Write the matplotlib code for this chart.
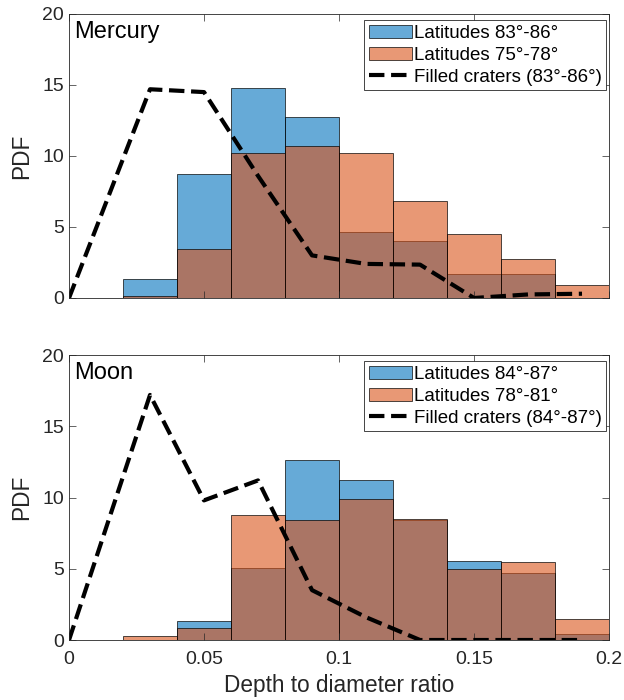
import numpy as np
import matplotlib
matplotlib.use("Agg")
import matplotlib.pyplot as plt

plt.rcParams['font.family'] = ['Liberation Sans', 'DejaVu Sans']

# bin edges shared by both panels
edges = np.arange(0, 0.2001, 0.02)

# Mercury
merc_polar = [0, 1.35, 8.7, 14.8, 12.75, 4.65, 4.0, 1.7, 1.7, 0]
merc_low = [0, 0.15, 3.45, 10.2, 10.7, 10.2, 6.8, 4.5, 2.75, 0.9]
merc_fill_x = [0, 0.03, 0.05, 0.07, 0.09, 0.11, 0.13, 0.15, 0.17, 0.19]
merc_fill_y = [0, 14.7, 14.5, 8.6, 3.0, 2.4, 2.35, 0, 0.25, 0.3]

# Moon
moon_polar = [0, 0, 1.36, 5.07, 12.6, 11.2, 8.45, 5.58, 4.67, 0.44]
moon_low = [0, 0.28, 0.82, 8.76, 8.43, 9.93, 8.47, 4.98, 5.51, 1.45]
moon_fill_x = [0, 0.03, 0.05, 0.07, 0.09, 0.11, 0.13, 0.15, 0.17, 0.19]
moon_fill_y = [0, 17.2, 9.8, 11.2, 3.5, 1.6, 0, 0, 0, 0]

panels = [
    ("Mercury", merc_polar, merc_low, merc_fill_x, merc_fill_y,
     ["Latitudes 83°-86°", "Latitudes 75°-78°", "Filled craters (83°-86°)"]),
    ("Moon", moon_polar, moon_low, moon_fill_x, moon_fill_y,
     ["Latitudes 84°-87°", "Latitudes 78°-81°", "Filled craters (84°-87°)"]),
]

blue = (0.0, 0.447, 0.741, 0.6)
orange = (0.85, 0.325, 0.098, 0.6)
gray = (0.15, 0.15, 0.15)

fig = plt.figure(figsize=(6.24, 7.0), dpi=100)
rects = [[0.1106, 0.5743, 0.8654, 0.4057], [0.1106, 0.0857, 0.8654, 0.4071]]

for i, (name, polar, low, fx, fy, labels) in enumerate(panels):
    ax = fig.add_axes(rects[i])
    b1 = ax.bar(edges[:-1], polar, width=0.02, align='edge', facecolor=blue,
                edgecolor=(0, 0, 0, 0.8), linewidth=0.6)
    b2 = ax.bar(edges[:-1], low, width=0.02, align='edge', facecolor=orange,
                edgecolor=(0, 0, 0, 0.8), linewidth=0.6)
    ln, = ax.plot(fx, fy, color='k', linestyle='--', linewidth=3)
    ax.set_xlim(0, 0.2)
    ax.set_ylim(0, 20)
    ax.set_xticks([0, 0.05, 0.1, 0.15, 0.2])
    ax.set_yticks([0, 5, 10, 15, 20])
    ax.set_yticklabels(['0', '5', '10', '15', '20'])
    ax.tick_params(direction='in', top=True, right=True, length=5, width=0.5,
                   colors=gray, labelsize=14, labelcolor=gray)
    ax.tick_params(axis='x', pad=8)
    for s in ax.spines.values():
        s.set_color(gray)
        s.set_linewidth(0.6)
    if i == 0:
        ax.set_xticklabels([])
    else:
        ax.set_xticklabels(['0', '0.05', '0.1', '0.15', '0.2'])
        ax.set_xlabel("Depth to diameter ratio", fontsize=16.3, color=gray,
                      labelpad=4)
    ax.set_ylabel("PDF", fontsize=16.3, color=gray, labelpad=7)
    ax.text(0.01, 0.975, name, transform=ax.transAxes, fontsize=17,
            va='top', ha='left', color='k')
    leg = ax.legend([b1, b2, ln], labels, loc='upper right',
                    bbox_to_anchor=(0.995, 0.978), fontsize=13.5,
                    fancybox=False, framealpha=1, borderpad=0.25,
                    handlelength=2.3, handletextpad=0.1, labelspacing=0.25,
                    borderaxespad=0)
    leg.get_frame().set_edgecolor(gray)
    leg.get_frame().set_linewidth(0.6)

fig.savefig("out.png", dpi=100)
